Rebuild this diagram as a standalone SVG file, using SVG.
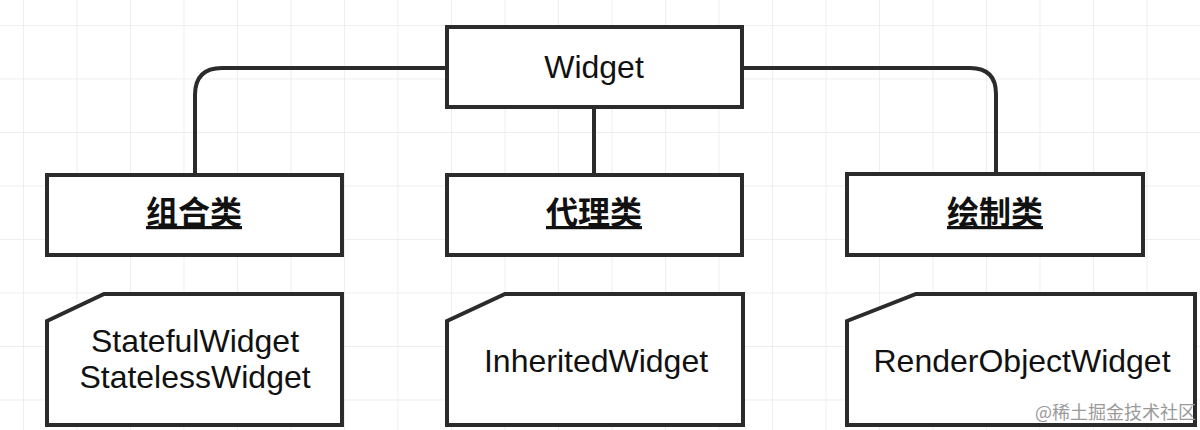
<svg xmlns="http://www.w3.org/2000/svg" width="1200" height="430" viewBox="0 0 1200 430">
  <defs>
    <pattern id="grid" x="23" y="25" width="53.5" height="53.5" patternUnits="userSpaceOnUse">
      <path d="M0 0 H53.5 M0 0 V53.5" fill="none" stroke="#e9e9e9" stroke-width="1.5"/>
    </pattern>
  </defs>
  <style>
    .box { fill: #ffffff; stroke: #2b2b2b; stroke-width: 4; }
    .conn { fill: none; stroke: #2b2b2b; stroke-width: 4; }
    .en { font-family: "Liberation Sans", Arial, sans-serif; font-size: 32px; fill: #111111; text-anchor: middle; }
    .cn { font-family: "Noto Sans CJK SC", sans-serif; font-size: 32px; font-weight: bold; fill: #111111; text-anchor: middle; text-decoration: underline; }
    .wm { font-family: "Noto Sans CJK SC", sans-serif; font-size: 18px; fill: #9a9a9a; text-anchor: end; }
  </style>
  <rect x="0" y="0" width="1200" height="430" fill="#ffffff"/>
  <rect x="0" y="0" width="1200" height="430" fill="url(#grid)"/>

  <g id="connectors">
    <path class="conn" d="M446 68 H222 Q195 68 195 95 V175"/>
    <path class="conn" d="M594 107 V175"/>
    <path class="conn" d="M742 68 H970 Q996 68 996 94 V174"/>
  </g>

  <g id="widget">
    <rect class="box" x="447" y="27" width="295" height="80"/>
    <text class="en" x="594" y="78">Widget</text>
  </g>

  <g id="zuhe">
    <rect class="box" x="47" y="175" width="295" height="80"/>
    <text class="cn" x="194" y="224">组合类</text>
  </g>
  <g id="daili">
    <rect class="box" x="447" y="175" width="295" height="80"/>
    <text class="cn" x="594" y="224">代理类</text>
  </g>
  <g id="huizhi">
    <rect class="box" x="847" y="174" width="296" height="81"/>
    <text class="cn" x="995" y="224">绘制类</text>
  </g>

  <g id="card-zuhe">
    <path class="box" d="M47 321 L104 294 H342 V425 H47 Z"/>
    <text class="en" x="195" y="352">StatefulWidget</text>
    <text class="en" x="195" y="388">StatelessWidget</text>
  </g>
  <g id="card-daili">
    <path class="box" d="M447 321 L505 294 H743 V425 H447 Z"/>
    <text class="en" x="596" y="372">InheritedWidget</text>
  </g>
  <g id="card-huizhi">
    <path class="box" d="M847 321 L916 294 H1195 V425 H847 Z"/>
    <text class="en" x="1022" y="372">RenderObjectWidget</text>
  </g>

  <text class="wm" x="1196" y="419">@稀土掘金技术社区</text>
</svg>
